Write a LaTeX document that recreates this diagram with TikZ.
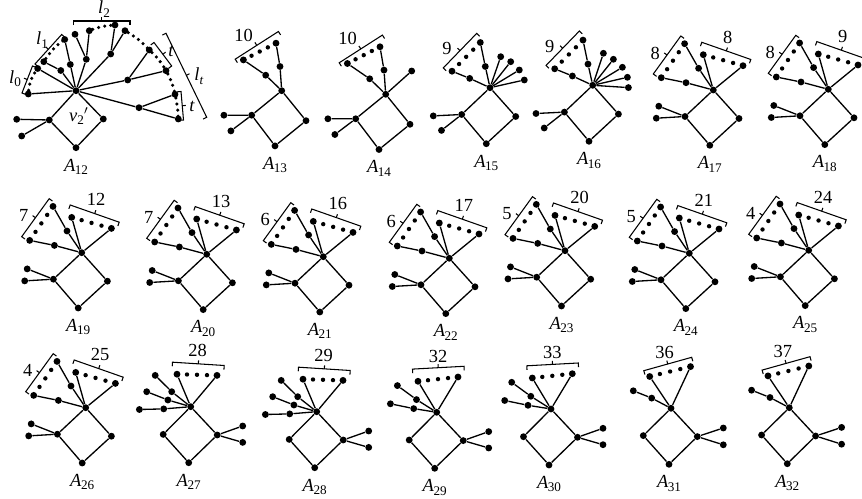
\documentclass[tikz,border=0pt]{standalone}
\usepackage{fontspec}
\setmainfont{Liberation Serif}
\usetikzlibrary{calc,positioning}

\tikzset{
  vtx/.style={circle,fill=black,inner sep=0pt,minimum size=3.9pt},
  ln/.style={line width=0.75pt},
  brkline/.style={line width=0.6pt},
  dts/.style={line width=2pt,line cap=round,dash pattern=on 0pt off 3.5pt},
  txt/.style={inner sep=0pt,font=\fontsize{10.5}{12}\selectfont},
}
\newcommand{\lsub}[1]{\raisebox{-0.4ex}{\fontsize{7.5}{8}\selectfont #1}}
\newcommand{\gl}[1]{\textit{A}\kern-0.3pt\lsub{#1}}
% three small dots between two leaves
\newcommand{\sdots}[2]{\foreach \f in {0.25,0.5,0.75} \fill ($(#1)!\f!(#2)$) circle (1.25pt);}
% bracket: hooks on the right of #1->#2, tick on the left
\newcommand{\brk}[2]{%
  \draw[brkline] ($#1!2.3pt!-90:#2$) -- #1 -- #2 -- ($#2!2.3pt!90:#1$);
  \coordinate (bm) at ($#1!0.5!#2$);
  \draw[brkline] (bm) -- ($(bm)!2pt!90:#2$);
}
\newcommand{\sqr}[4]{%
  \node[vtx] (c) at (0,0) {};
  \node[vtx] (l) at #1 {};
  \node[vtx] (r) at #2 {};
  \node[vtx] (b) at #3 {};
  \node[txt,below=4pt of b] (nm) {#4};
  \draw[ln] (c) -- (l) -- (b) -- (r) -- (c);
}
% two fans, pendants at l
\newcommand{\typeA}[3]{%
  \sqr{(-28.3,26.5)}{(25.7,28.5)}{(-3.5,55.3)}{\gl{#1}}
  \node[vtx] (p1) at (-54.5,16.2) {};
  \node[vtx] (p2) at (-57,28.2) {};
  \node[vtx] (ma) at (-27.3,-7.3) {};
  \node[vtx] (la) at (-52,-12.3) {};
  \node[vtx] (mb) at (-14.7,-21.7) {};
  \node[vtx] (lb) at (-28.7,-46.3) {};
  \node[vtx] (ra) at (-10,-35.3) {};
  \node[vtx] (rb) at (29.7,-24.3) {};
  \draw[ln] (p1) -- (l) -- (p2);
  \draw[ln] (la) -- (ma) -- (c) -- (mb) -- (lb);
  \draw[ln] (ra) -- (c) -- (rb);
  \sdots{la}{lb} \sdots{ra}{rb}
  \brk{(-60,-16)}{(-32.5,-54)}
  \brk{(-11.5,-47.7)}{(37.5,-30.5)}
  \node[txt] (nl) at (-58,-37) {#2};
  \node[txt] (nr) at (14.5,-53) {#3};
}
% top fan, pendants at r
\newcommand{\typeB}[3]{%
  \sqr{(-27.5,27.7)}{(26.5,28.3)}{(-2,56)}{\gl{#1}}
  \node[vtx] (q1) at (52,19.3) {};
  \node[vtx] (q2) at (52,35.7) {};
  \draw[ln] (q1) -- (r) -- (q2);
  \ifnum#3=3
    \node[vtx] (la) at (-35.5,-31.3) {}; \node[vtx] (ma) at (-19,-15) {};
    \node[vtx] (lb) at (-44,-15) {}; \node[vtx] (mb) at (-22.8,-6.7) {};
    \node[vtx] (lc) at (-51.3,2.8) {}; \node[vtx] (mc) at (-27,2.2) {};
    \draw[ln] (lc) -- (mc) -- (c);
    \node[vtx] (ta) at (-13.7,-32.5) {}; \node[vtx] (tb) at (26.3,-31.3) {};
    \brk{(-18.2,-44.5)}{(33.5,-41.2)}
    \node[txt] (nt) at (7,-56) {#2};
  \else
    \node[vtx] (la) at (-39.3,-26.7) {}; \node[vtx] (ma) at (-20.2,-12.7) {};
    \node[vtx] (lb) at (-46.3,-8.5) {}; \node[vtx] (mb) at (-23,-3.7) {};
    \node[vtx] (ta) at (-18.7,-31) {}; \node[vtx] (tb) at (21.3,-35.3) {};
    \brk{(-24.2,-43.2)}{(27.3,-46)}
    \node[txt] (nt) at (1.3,-56.2) {#2};
  \fi
  \draw[ln] (la) -- (ma) -- (c) -- (mb) -- (lb);
  \draw[ln] (ta) -- (c) -- (tb);
  \sdots{ta}{tb}
}
\newcommand{\typeC}[2]{%
  \sqr{(-27.7,27.3)}{(26.3,28.3)}{(-2,56)}{\gl{#1}}
  \node[vtx] (q1) at (52.3,19.7) {};
  \node[vtx] (q2) at (52.3,36.5) {};
  \node[vtx] (la) at (-37.7,-17.5) {};
  \node[vtx] (ma) at (-19.3,-10.2) {};
  \node[vtx] (ta) at (-21.3,-31.8) {};
  \node[vtx] (tb) at (19.5,-41.7) {};
  \draw[ln] (q1) -- (r) -- (q2);
  \draw[ln] (la) -- (ma) -- (c);
  \draw[ln] (ta) -- (c) -- (tb);
  \sdots{ta}{tb}
  \brk{(-27.2,-37.6)}{(20.7,-51)}
  \node[txt] (nt) at (-6.5,-56) {#2};
}
\newcommand{\typeD}[1]{%
  \sqr{(-30,24.5)}{(24.3,30)}{(-6.7,55.2)}{\gl{#1}}
  \node[vtx] (p1) at (-57.8,24.5) {};
  \node[vtx] (p2) at (-50.8,40.2) {};
  \node[vtx] (la) at (-38.3,-30.8) {};
  \node[vtx] (ma) at (-16,-15.5) {};
  \node[vtx] (lb) at (-5.7,-47.5) {};
  \node[vtx] (mb) at (-1.7,-24.2) {};
  \draw[ln] (p1) -- (l) -- (p2);
  \draw[ln] (la) -- (ma) -- (c) -- (mb) -- (lb);
  \sdots{la}{lb}
  \brk{(-46.5,-31.5)}{(-3.3,-59.2)}
  \node[txt] (nl) at (-38,-55.5) {10};
}
\newcommand{\typeE}[2]{%
  \sqr{(-28.3,26.8)}{(25.7,28.8)}{(-3.7,56)}{\gl{#1}}
  \node[vtx] (p1) at (-56.7,28.2) {};
  \node[vtx] (p2) at (-48.5,42.7) {};
  \node[vtx] (la) at (-38,-16.5) {};
  \node[vtx] (ma) at (-20.3,-9.3) {};
  \node[vtx] (lb) at (-9.7,-45.2) {};
  \node[vtx] (mb) at (-4.7,-21.2) {};
  \draw[ln] (p1) -- (l) -- (p2);
  \draw[ln] (la) -- (ma) -- (c) -- (mb) -- (lb);
  \sdots{la}{lb}
  \brk{(-46.7,-19.8)}{(-13.3,-54.3)}
  \node[txt] (nl) at (-43,-39.3) {9};
  \foreach \px/\py [count=\i] in {#2} {
    \node[vtx] (x\i) at (\px,\py) {};
    \draw[ln] (c) -- (x\i);
  }
}

\begin{document}
\begin{tikzpicture}[x=0.02cm,y=-0.02cm]
\useasboundingbox (0,0) rectangle (862,499);

% A12
\begin{scope}[name prefix=g12-]
  \node[vtx] (c) at (76,90.7) {};
  \node[vtx] (l) at (49.3,120) {};
  \node[vtx] (r) at (103.3,119) {};
  \node[vtx] (b) at (76,147.7) {};
  \node[txt,below=4pt of b] (nm) {\gl{12}};
  \draw[ln] (c) -- (l) -- (b) -- (r) -- (c);
  \node[vtx] (p1) at (16.7,119.3) {};
  \node[vtx] (p2) at (21.7,136) {};
  \draw[ln] (p1) -- (l) -- (p2);
  \node[vtx] (a0) at (28.3,94) {};
  \node[vtx] (a1) at (37.7,68.5) {};
  \draw[ln] (a0) -- (c) -- (a1);
  \node[vtx] (m1) at (60.8,70.5) {};
  \node[vtx] (e1) at (43.8,61.7) {};
  \node[vtx] (m2) at (70.3,64.5) {};
  \node[vtx] (e2) at (64.7,39.5) {};
  \draw[ln] (e1) -- (m1) -- (c) -- (m2) -- (e2);
  \node[vtx] (m3) at (86.3,59.3) {};
  \node[vtx] (f1) at (75,34.3) {};
  \node[vtx] (f2) at (89.3,30.7) {};
  \draw[ln] (c) -- (m3) -- (f1);
  \draw[ln] (m3) -- (f2);
  \node[vtx] (m4) at (110.7,54) {};
  \node[vtx] (f3) at (115,25) {};
  \node[vtx] (f4) at (125,30.7) {};
  \draw[ln] (c) -- (m4) -- (f3);
  \draw[ln] (m4) -- (f4);
  \node[vtx] (m5) at (127.7,80) {};
  \node[vtx] (s1) at (149.3,50) {};
  \node[vtx] (s2) at (166,70.7) {};
  \draw[ln] (c) -- (m5) -- (s1);
  \draw[ln] (m5) -- (s2);
  \node[vtx] (m6) at (139,107.7) {};
  \node[vtx] (s3) at (175,94.3) {};
  \node[vtx] (s4) at (178.3,119) {};
  \draw[ln] (c) -- (m6) -- (s3);
  \draw[ln] (m6) -- (s4);
  \draw[dts] (a0) to[bend left=15] (a1);
  \draw[dts] (e1) to[bend left=10] (e2);
  \draw[dts] (f2) to[bend left=8] (f3);
  \draw[dts] (f4) to[bend left=8] (s1);
  \draw[dts] (s1) to[bend left=8] (s2);
  \draw[dts] (s2) to[bend left=8] (s3);
  \draw[dts] (s3) to[bend left=5] (s4);
  \brk{(22,93)}{(32.5,66)}
  \brk{(35,64)}{(61.7,34.5)}
  \brk{(73.5,21)}{(130,21)}
  \brk{(154,42.5)}{(171.7,66)}
  \brk{(181,91.5)}{(183.5,120)}
  \brk{(166,33.3)}{(206.7,117.3)}
  \node[txt] (tl0) at (15,78.5) {\textit{l}\lsub{0}};
  \node[txt] (tl1) at (42,40) {\textit{l}\lsub{1}};
  \node[txt] (tl2) at (104,9) {\textit{l}\lsub{2}};
  \node[txt] (tt1) at (171,51) {\textit{t}};
  \node[txt] (tt2) at (192,106) {\textit{t}};
  \node[txt] (tlt) at (199,76) {\textit{l}\lsub{\textit{t}}};
  \node[txt] (tv) at (79,116) {\textit{v}\lsub{2}$'$};
\end{scope}

\begin{scope}[shift={(281.7,90.7)},name prefix=g13-] \typeD{13} \end{scope}
\begin{scope}[shift={(385.7,94.3)},name prefix=g14-]
  \typeD{14}
  \node[vtx] (x1) at (26,-23.3) {};
  \draw[ln] (c) -- (x1);
\end{scope}
\begin{scope}[shift={(490,87.7)},name prefix=g15-]
  \typeE{15}{10.7/-31,20.7/-26,29.3/-17.7,34.3/-7.7}
\end{scope}
\begin{scope}[shift={(592.7,85.3)},name prefix=g16-]
  \typeE{16}{10.7/-32,20.7/-26,29.7/-18,34.7/-8,35.7/2.3}
\end{scope}
\begin{scope}[shift={(713.3,90)},name prefix=g17-] \typeA{17}{8}{8} \end{scope}
\begin{scope}[shift={(828.3,89.3)},name prefix=g18-] \typeA{18}{8}{9} \end{scope}

\begin{scope}[shift={(81.7,252.7)},name prefix=g19-] \typeA{19}{7}{12} \end{scope}
\begin{scope}[shift={(206.7,254.3)},name prefix=g20-] \typeA{20}{7}{13} \end{scope}
\begin{scope}[shift={(323.3,256.7)},name prefix=g21-] \typeA{21}{6}{16} \end{scope}
\begin{scope}[shift={(449.3,258.3)},name prefix=g22-] \typeA{22}{6}{17} \end{scope}
\begin{scope}[shift={(565,250.7)},name prefix=g23-] \typeA{23}{5}{20} \end{scope}
\begin{scope}[shift={(689.3,253.3)},name prefix=g24-] \typeA{24}{5}{21} \end{scope}
\begin{scope}[shift={(808.7,250.3)},name prefix=g25-] \typeA{25}{4}{24} \end{scope}

\begin{scope}[shift={(85.7,407.7)},name prefix=g26-] \typeA{26}{4}{25} \end{scope}
\begin{scope}[shift={(190.7,406.7)},name prefix=g27-] \typeB{27}{28}{3} \end{scope}
\begin{scope}[shift={(316.7,411.7)},name prefix=g28-] \typeB{28}{29}{3} \end{scope}
\begin{scope}[shift={(436.7,412.3)},name prefix=g29-] \typeB{29}{32}{2} \end{scope}
\begin{scope}[shift={(551,409)},name prefix=g30-] \typeB{30}{33}{2} \end{scope}
\begin{scope}[shift={(671,408.3)},name prefix=g31-] \typeC{31}{36} \end{scope}
\begin{scope}[shift={(789.3,407.7)},name prefix=g32-] \typeC{32}{37} \end{scope}
\end{tikzpicture}
\end{document}
